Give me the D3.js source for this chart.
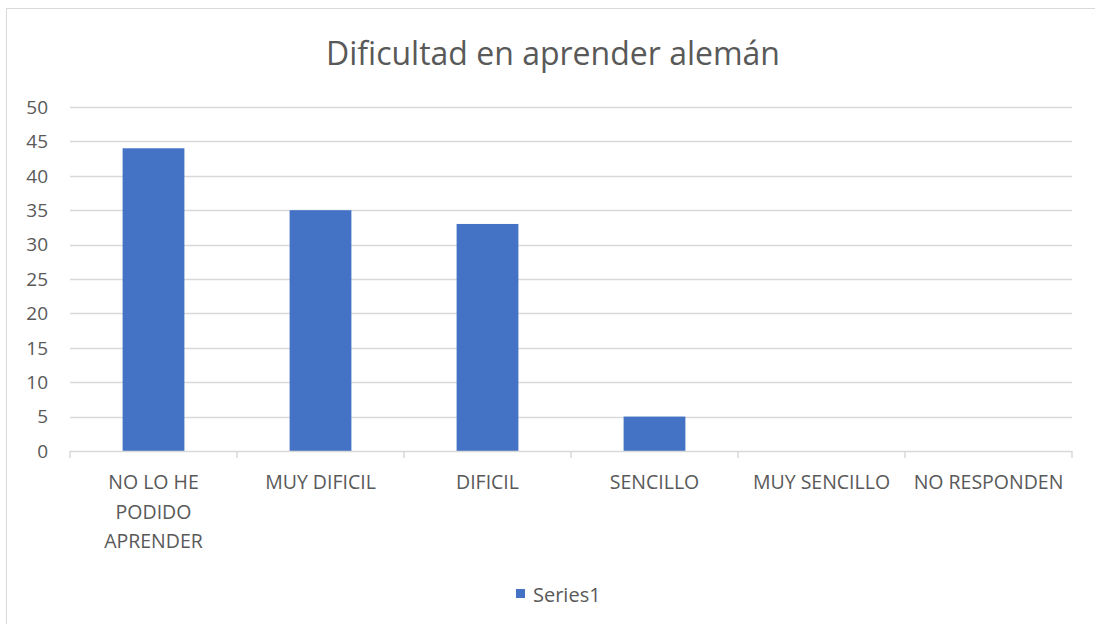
<!DOCTYPE html>
<html>
<head>
<meta charset="utf-8">
<script src="https://cdn.jsdelivr.net/npm/d3@7"></script>
<style>
  body { margin: 0; background: #fff; }
  text { font-family: "Open Sans", sans-serif; fill: #595959; }
</style>
</head>
<body>
<div id="chart-container"></div>
<script>
const categories = ["NO LO HE PODIDO APRENDER", "MUY DIFICIL", "DIFICIL", "SENCILLO", "MUY SENCILLO", "NO RESPONDEN"];
const values = [44, 35, 33, 5, 0, 0];
const yTicks = [0, 5, 10, 15, 20, 25, 30, 35, 40, 45, 50];
const seriesName = "Series1";
const chartTitle = "Dificultad en aprender alemán";

const W = 1095, H = 624;
const margin = {top: 107, right: 23, bottom: 173, left: 70};
const width = W - margin.left - margin.right;
const height = H - margin.top - margin.bottom;

const svg = d3.select("#chart-container").append("svg")
    .attr("width", W)
    .attr("height", H);

// chart border
svg.append("rect")
    .attr("x", 6.5).attr("y", 8.5)
    .attr("width", W + 10).attr("height", H + 10)
    .attr("fill", "none")
    .attr("stroke", "#d9d9d9");

svg.append("text")
    .attr("x", 553).attr("y", 65)
    .attr("text-anchor", "middle")
    .style("font-size", "32px")
    .text(chartTitle);

const g = svg.append("g")
    .attr("transform", `translate(${margin.left}, ${margin.top})`);

const xScale = d3.scaleBand().domain(categories).range([0, width]).paddingInner(0.63).paddingOuter(0.315);
const yScale = d3.scaleLinear().domain([0, 50]).range([height, 0]);

// gridlines
g.selectAll(".grid")
    .data(yTicks.filter(d => d > 0))
    .enter().append("line")
    .attr("class", "grid")
    .attr("x1", 0).attr("x2", width)
    .attr("y1", d => Math.round(yScale(d)) + 0.5)
    .attr("y2", d => Math.round(yScale(d)) + 0.5)
    .attr("stroke", "#d9d9d9")
    .attr("stroke-width", 1.5);

// y labels
g.selectAll(".ylab")
    .data(yTicks)
    .enter().append("text")
    .attr("class", "ylab")
    .attr("x", -22)
    .attr("y", d => yScale(d))
    .attr("dy", "0.36em")
    .attr("text-anchor", "end")
    .style("font-size", "19px")
    .text(d => d);

// bars
g.selectAll(".bar")
    .data(values)
    .enter().append("rect")
    .attr("class", "bar")
    .attr("x", (d, i) => xScale(categories[i]))
    .attr("y", d => yScale(d))
    .attr("width", xScale.bandwidth())
    .attr("height", d => height - yScale(d))
    .attr("fill", "#4472c4");

// x axis line and ticks
const step = width / categories.length;
g.append("line")
    .attr("x1", 0).attr("x2", width)
    .attr("y1", height + 0.5).attr("y2", height + 0.5)
    .attr("stroke", "#d9d9d9")
    .attr("stroke-width", 1.5);

g.selectAll(".xtick")
    .data(d3.range(categories.length + 1))
    .enter().append("line")
    .attr("class", "xtick")
    .attr("x1", d => d * step).attr("x2", d => d * step)
    .attr("y1", height).attr("y2", height + 7)
    .attr("stroke", "#d9d9d9")
    .attr("stroke-width", 1.5);

// category labels, wrapped
const labelLines = {
  "NO LO HE PODIDO APRENDER": ["NO LO HE", "PODIDO", "APRENDER"]
};
categories.forEach(c => {
  const lines = labelLines[c] || [c];
  const t = g.append("text")
      .attr("text-anchor", "middle")
      .attr("x", xScale(c) + xScale.bandwidth() / 2)
      .attr("y", height + 38)
      .style("font-size", "19.5px");
  lines.forEach((l, i) => {
    t.append("tspan")
      .attr("x", xScale(c) + xScale.bandwidth() / 2)
      .attr("dy", i === 0 ? 0 : 29.5)
      .text(l);
  });
});

// legend
const legend = svg.append("g").attr("transform", "translate(516, 589)");
legend.append("rect")
    .attr("width", 9).attr("height", 9)
    .attr("fill", "#4472c4");
legend.append("text")
    .attr("x", 17).attr("y", 13)
    .style("font-size", "20px")
    .text(seriesName);
</script>
</body>
</html>
